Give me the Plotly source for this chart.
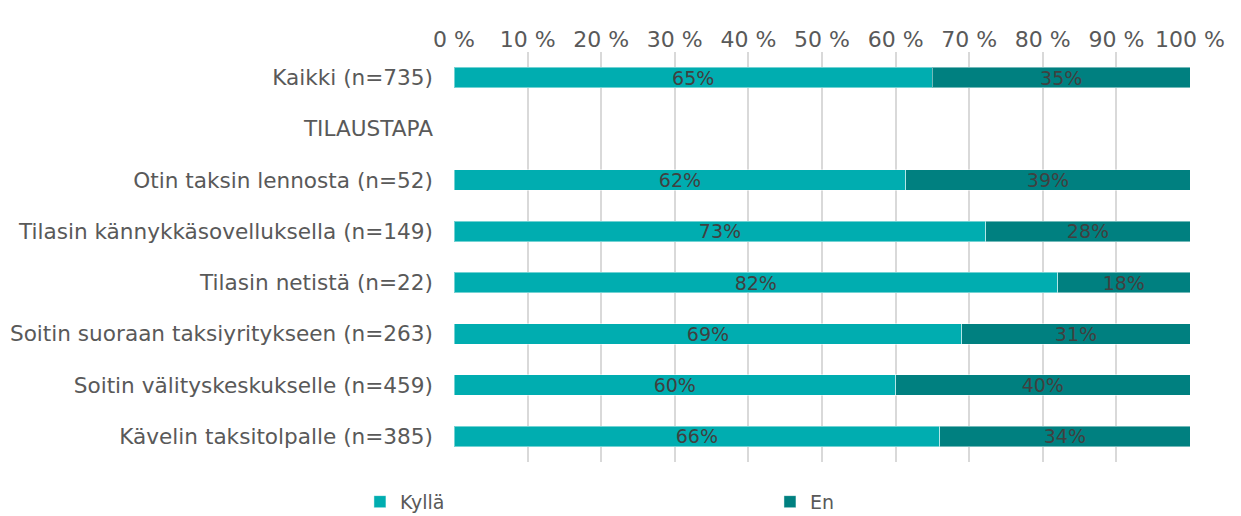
import plotly.graph_objects as go

# Kategoriat (ylhäältä alas)
kategoriat = [
    "Kaikki (n=735)",
    "TILAUSTAPA",
    "Otin taksin lennosta (n=52)",
    "Tilasin kännykkäsovelluksella (n=149)",
    "Tilasin netistä (n=22)",
    "Soitin suoraan taksiyritykseen (n=263)",
    "Soitin välityskeskukselle (n=459)",
    "Kävelin taksitolpalle (n=385)",
]
kylla = [65, None, 62, 73, 82, 69, 60, 66]
en = [35, None, 39, 28, 18, 31, 40, 34]

fontti = "Verdana, DejaVu Sans, sans-serif"

fig = go.Figure()
sarjat = [("Kyllä", kylla, "#00ADB0", "legend"), ("En", en, "#008080", "legend2")]
for nimi, arvot, vari, selite in sarjat:
    fig.add_trace(go.Bar(
        y=kategoriat,
        x=arvot,
        name=nimi,
        orientation="h",
        width=0.4,
        marker=dict(color=vari, line=dict(color="rgba(255,255,255,0.45)", width=1)),
        text=[f"{v}%" if v is not None else "" for v in arvot],
        textposition="inside",
        insidetextanchor="middle",
        textfont=dict(family=fontti, size=19, color="#404040"),
        hoverinfo="skip",
        legend=selite,
        showlegend=True,
    ))

selitefontti = dict(size=19, color="#595959")

# sivun body-marginaali siirtää kuvaa 8 px, joten pienennetään mittoja
fig.update_layout(
    barmode="stack",
    barnorm="percent",
    width=1233,
    height=508,
    margin=dict(l=446, r=51, t=44, b=54),
    plot_bgcolor="white",
    paper_bgcolor="white",
    font=dict(family=fontti, color="#595959"),
    showlegend=True,
    xaxis=dict(
        side="top",
        range=[0, 100],
        dtick=10,
        ticksuffix=" %",
        showgrid=True,
        gridcolor="#d9d9d9",
        gridwidth=2,
        zeroline=False,
        tickfont=dict(size=22, color="#595959"),
        ticks="",
        automargin=False,
        fixedrange=True,
    ),
    yaxis=dict(
        autorange="reversed",
        categoryorder="array",
        categoryarray=kategoriat,
        tickfont=dict(size=21.6, color="#595959"),
        ticklabelstandoff=20,
        showgrid=False,
        automargin=False,
        fixedrange=True,
    ),
    legend=dict(
        orientation="h",
        x=-0.1278, xanchor="left",
        yref="container", y=0.028, yanchor="middle",
        bgcolor="rgba(0,0,0,0)",
        font=selitefontti,
    ),
    legend2=dict(
        orientation="h",
        x=0.4293, xanchor="left",
        yref="container", y=0.028, yanchor="middle",
        bgcolor="rgba(0,0,0,0)",
        font=selitefontti,
    ),
    uniformtext=dict(minsize=19, mode="show"),
)

fig.write_html("out.html")
